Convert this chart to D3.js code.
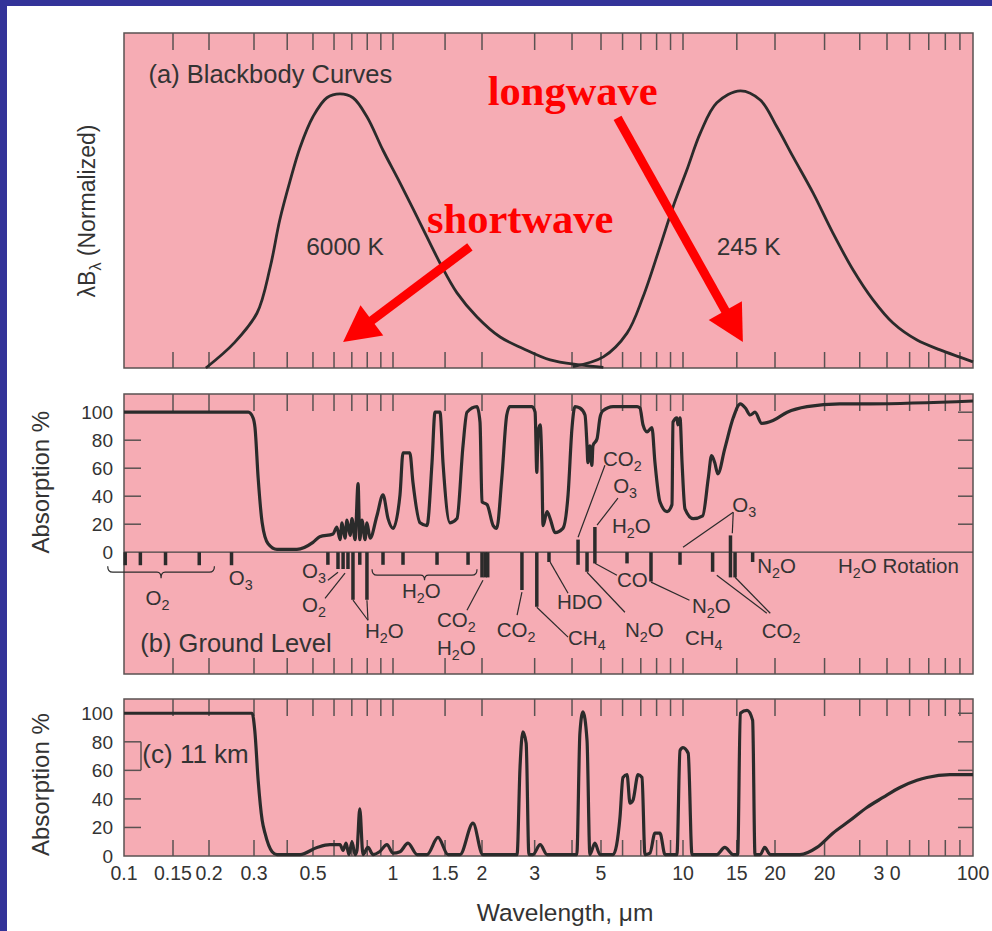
<!DOCTYPE html>
<html lang="en">
<head>
<meta charset="UTF-8">
<script src="https://d3js.org/d3.v7.min.js"></script>
<style>
    body { margin: 0; background: #fff; }
    svg text { font-family: "Liberation Sans", Arial, sans-serif; fill: #333; }
    .red { font-family: "Liberation Serif", "Times New Roman", serif !important; font-weight: bold; fill: #ff0000 !important; }
</style>
</head>
<body>
<svg id="chart"></svg>
<script>
// ---- data (wavelength in micrometres) ----
const frameTicks = [0.15, 0.2, 0.3, 0.4, 0.5, 0.6, 0.7, 0.8, 0.9, 1, 1.5, 2, 3, 4, 5, 6, 7, 8, 9, 10, 15, 20, 30, 40, 50, 60, 70, 80, 90];
const axisTickValues = [0.1, 0.15, 0.2, 0.3, 0.5, 1, 1.5, 2, 3, 5, 10, 15, 20, 30, 50, 100];
const axisTickLabels = ["0.1", "0.15", "0.2", "0.3", "0.5", "1", "1.5", "2", "3", "5", "10", "15", "20", "20", "3 0", "100"];
const absTicks = [0, 20, 40, 60, 80, 100];

// (a) normalized blackbody curves
const bb6000 = [[0.195, 0], [0.251, 0.09], [0.308, 0.197], [0.345, 0.36], [0.375, 0.53], [0.41, 0.67], [0.447, 0.79],
    [0.5, 0.9], [0.564, 0.968], [0.632, 0.982], [0.707, 0.968], [0.798, 0.9], [0.917, 0.78], [1.056, 0.663],
    [1.234, 0.52], [1.442, 0.376], [1.646, 0.269], [1.924, 0.183], [2.3, 0.111], [2.74, 0.07], [3.38, 0.029],
    [4.25, 0.011], [5.1, 0.002]];
const bb245 = [[4.03, 0.005], [5.1, 0.04], [6.23, 0.125], [7.13, 0.254], [8.23, 0.434], [9.19, 0.577], [10.3, 0.71],
    [11.4, 0.842], [12.9, 0.95], [15.4, 0.993], [17.9, 0.96], [20.3, 0.864], [23.2, 0.756], [27.3, 0.627],
    [32.1, 0.484], [37.9, 0.351], [44.6, 0.244], [52.5, 0.161], [63.7, 0.1], [76.7, 0.065], [90, 0.039], [100, 0.022]];

// (b) absorption % at ground level
const groundLevel = [[0.1, 100], [0.285, 100], [0.2975, 96], [0.3026, 89], [0.311, 53], [0.322, 21], [0.339, 6],
    [0.366, 2], [0.435, 2], [0.5, 7], [0.53, 11], [0.595, 13], [0.615, 18], [0.632, 9], [0.643, 21], [0.66, 10],
    [0.671, 23], [0.69, 12], [0.701, 24], [0.72, 9], [0.739, 49], [0.75, 9], [0.764, 23], [0.785, 9], [0.798, 21],
    [0.82, 10], [0.87, 26], [0.917, 41], [0.958, 24], [1.0, 17], [1.056, 41], [1.081, 71], [1.14, 71], [1.168, 50],
    [1.234, 21], [1.303, 19], [1.355, 64], [1.387, 100], [1.442, 100], [1.476, 64], [1.559, 21], [1.646, 24],
    [1.725, 76], [1.779, 100], [1.924, 104], [1.969, 93], [2.0, 36], [2.08, 34], [2.18, 19], [2.24, 17], [2.33, 53],
    [2.42, 98], [2.48, 104], [2.94, 104], [3.01, 100], [3.05, 57], [3.08, 86], [3.13, 91], [3.17, 64], [3.2, 19],
    [3.3, 29], [3.38, 24], [3.51, 14], [3.73, 17], [3.88, 41], [4.0, 89], [4.09, 104], [4.25, 103], [4.42, 98],
    [4.49, 76], [4.52, 64], [4.59, 76], [4.66, 62], [4.7, 76], [4.85, 81], [4.96, 96], [5.08, 101], [5.54, 104],
    [6.78, 104], [6.95, 103], [7.13, 91], [7.38, 86], [7.69, 89], [7.89, 64], [8.23, 36], [8.74, 29], [9.11, 34],
    [9.19, 93], [9.5, 96], [9.58, 91], [9.75, 96], [9.92, 64], [10.15, 31], [10.8, 24], [11.6, 26], [12.1, 53],
    [12.4, 69], [12.7, 64], [13.0, 56], [13.7, 74], [14.6, 96], [15.4, 106], [16.0, 103], [16.6, 98], [17.2, 100],
    [18.1, 92], [19.7, 94], [22.1, 100], [26.0, 104], [34.0, 106], [43.5, 106], [100, 108]];

// (c) absorption % at 11 km
const at11km = [[0.1, 100], [0.295, 100], [0.302, 88], [0.311, 53], [0.322, 25], [0.33, 16], [0.351, 3], [0.366, 1],
    [0.386, 1], [0.447, 1], [0.518, 6], [0.579, 8], [0.632, 8], [0.649, 4], [0.666, 9], [0.683, 1], [0.701, 10],
    [0.72, 1], [0.732, 4], [0.75, 33], [0.771, 1], [0.805, 6], [0.841, 1], [0.89, 3], [0.949, 8], [1.0, 2],
    [1.056, 3], [1.124, 9], [1.206, 1], [1.303, 1], [1.42, 13], [1.535, 1], [1.685, 1], [1.865, 23], [2.01, 1],
    [2.62, 1], [2.68, 62], [2.74, 87], [2.81, 79], [2.87, 1], [2.96, 1], [3.13, 8], [3.3, 1], [4.15, 1], [4.25, 86],
    [4.35, 101], [4.49, 81], [4.59, 1], [4.77, 9], [4.96, 1], [5.54, 1], [5.87, 27], [6.02, 55], [6.23, 57],
    [6.39, 37], [6.55, 39], [6.84, 57], [7.07, 55], [7.25, 1], [7.56, 2], [7.89, 16], [8.23, 16], [8.59, 1],
    [9.5, 1], [9.75, 74], [10, 76], [10.4, 72], [10.7, 1], [12.9, 1], [13.7, 6], [14.6, 1], [15.1, 1], [15.4, 100],
    [16.2, 102], [16.9, 95], [17.2, 1], [17.9, 1], [18.5, 6], [19.3, 1], [24.5, 1], [28.2, 6], [32.1, 16],
    [37.0, 25], [42.4, 34], [48.4, 41], [55.5, 48], [63.7, 53], [69, 55], [83, 57], [100, 57]];

// absorption band markers in (b): [wavelength, top, bottom]
const bandBars = [[0.101, 0, -9.3], [0.1145, 0, -9.3], [0.141, 0, -9.3], [0.185, 0, -9.3], [0.245, 0, -9.3],
    [0.569, 0, -9], [0.621, 0, -12], [0.649, 0, -12], [0.677, 0, -12], [0.707, 0, -34], [0.75, 0, -9], [0.798, 0, -34],
    [0.917, 0, -9], [1.081, 0, -9], [1.409, 0, -9], [1.794, 0, -9], [2.0, 0, -18], [2.05, 0, -18], [2.09, 0, -18],
    [2.72, 0, -27], [3.05, 0, -39], [3.35, 0, -7], [4.19, 9, -9], [4.49, 0, -14], [4.77, 18, -8], [6.23, 0, -8],
    [7.63, 0, -21], [9.75, 0, -9], [12.5, 0, -14], [14.3, 12, -18], [14.8, 0, -18], [16.9, 0, -7]];

const gasLabels = [
    {t: "O_2", x: 0.132, y: -37.9, mid: true}, {t: "O_3", x: 0.239, y: -23.6}, {t: "O_3", x: 0.455, y: -18.6},
    {t: "O_2", x: 0.455, y: -42.9}, {t: "H_2O", x: 0.785, y: -61.4}, {t: "H_2O", x: 1.073, y: -32.9},
    {t: "CO_2", x: 1.409, y: -53.2}, {t: "H_2O", x: 1.409, y: -73.2}, {t: "CO_2", x: 5.08, y: 61.4},
    {t: "O_3", x: 5.54, y: 42.1}, {t: "H_2O", x: 5.49, y: 13.6}, {t: "O_3", x: 14.5, y: 28.6},
    {t: "N_2O", x: 17.5, y: -15}, {t: "H_2O Rotation", x: 33.5, y: -15}, {t: "CO", x: 5.72, y: -25},
    {t: "HDO", x: 3.56, y: -40.7}, {t: "N_2O", x: 10.7, y: -43.6}, {t: "CO_2", x: 2.24, y: -60.7},
    {t: "CH_4", x: 3.88, y: -66.4}, {t: "N_2O", x: 6.12, y: -60.7}, {t: "CH_4", x: 10.15, y: -66.4},
    {t: "CO_2", x: 18.1, y: -61.4}];

const gasLeaders = [
    [[0.569, -20], [0.621, -14.3]], [[0.555, -32.9], [0.66, -15]], [[0.805, -48.6], [0.707, -34.3]],
    [[0.805, -48.6], [0.798, -34.3]], [[1.779, -41.4], [2.015, -20]], [[2.72, -28.6], [2.62, -45]],
    [[3.05, -39.3], [3.88, -60.7]], [[3.38, -7.1], [3.88, -29.3]], [[5.17, 62.1], [4.19, 10.7]],
    [[5.77, 38.6], [4.85, 19.3]], [[4.49, -14.3], [6.12, -42.9]], [[4.77, -7.9], [5.72, -16.4]],
    [[7.63, -21.4], [10.5, -34.3]], [[14.6, 28.6], [10, 3.6]], [[14.6, 28.6], [14.5, 13.6]],
    [[12.9, -16.4], [18.8, -43.6]], [[14.8, -17.9], [19.3, -43.6]]];

const gasBrackets = [{from: 0.0874, to: 0.21, level: -14.3, tip: -18.6}, {from: 0.834, to: 1.924, level: -16.4, tip: -20}];

const arrowNotes = [
    {t: "shortwave", tx: 1.303, ty: 0.484, from: [1.82, 0.434], to: [0.649, 0.093]},
    {t: "longwave", tx: 2.09, ty: 0.943, from: [5.75, 0.896], to: [15.7, 0.093]}];

// ---- layout ----
const W = 992, H = 931, left = 124, right = 973;
const svg = d3.select("#chart").attr("width", W).attr("height", H);
svg.append("rect").attr("width", W).attr("height", H).attr("fill", "#fff");
svg.append("rect").attr("width", 7).attr("height", H).attr("fill", "#333399");
svg.append("rect").attr("width", W).attr("height", 6).attr("fill", "#333399");

// hand-drawn log axis, each decade slightly different
const x = d3.scaleLog()
    .domain([0.1, 0.15, 0.2, 0.3, 1, 2, 5, 10, 20, 50, 100])
    .range([124, 173, 209, 254, 393, 482, 601, 683, 775, 887, 973]);
const yA = d3.scaleLinear().domain([0, 1.2]).range([368, 33]);
const yB = d3.scaleLinear().domain([-87, 113]).range([674, 394]);
const yC = d3.scaleLinear().domain([0, 110]).range([856, 699]);

const ink = "#2b2b2b", frameCol = "#5a5252";

function rich(sel, str, fs) {
    const parts = str.split(/_(.)/);
    let afterSub = false;
    parts.forEach((p, i) => {
        if (i % 2 === 1) {
            sel.append("tspan").attr("dy", fs * 0.25).attr("font-size", fs * 0.7).text(p);
            afterSub = true;
        } else if (p) {
            const ts = sel.append("tspan").text(p);
            if (afterSub) ts.attr("dy", -fs * 0.25);
            afterSub = false;
        }
    });
    return sel;
}

function frame(y) {
    const [b, t] = y.range();
    svg.append("rect").attr("x", left).attr("y", t).attr("width", right - left).attr("height", b - t)
        .attr("fill", "#f6acb4").attr("stroke", frameCol).attr("stroke-width", 1.5);
    const g = svg.append("g").attr("stroke", frameCol).attr("stroke-width", 1.5);
    g.selectAll(".tt").data(frameTicks).enter().append("line")
        .attr("x1", d => x(d)).attr("x2", d => x(d)).attr("y1", t).attr("y2", t + 17);
    g.selectAll(".bt").data(frameTicks).enter().append("line")
        .attr("x1", d => x(d)).attr("x2", d => x(d)).attr("y1", b).attr("y2", b - 16);
}

function absAxis(y) {
    const g = svg.append("g").attr("stroke", frameCol).attr("stroke-width", 1.5);
    const ticks = absTicks.filter(d => d > 0);
    g.selectAll(".l").data(ticks).enter().append("line")
        .attr("x1", left).attr("x2", left + 17).attr("y1", d => y(d)).attr("y2", d => y(d));
    g.selectAll(".r").data(ticks).enter().append("line")
        .attr("x1", right - 15).attr("x2", right).attr("y1", d => y(d)).attr("y2", d => y(d));
    svg.selectAll(null).data(absTicks).enter().append("text")
        .attr("x", 113).attr("y", d => y(d)).attr("dy", "0.36em").attr("text-anchor", "end")
        .attr("font-size", 19).text(d => d);
    const mid = (y(0) + y(100)) / 2;
    svg.append("text").attr("transform", `translate(49,${mid}) rotate(-90)`)
        .attr("text-anchor", "middle").attr("font-size", 24).text("Absorption %");
}

function curve(data, y, w, shape) {
    svg.append("path").datum(data)
        .attr("fill", "none").attr("stroke", ink).attr("stroke-width", w).attr("stroke-linejoin", "round")
        .attr("d", d3.line().x(d => x(d[0])).y(d => y(d[1])).curve(shape || d3.curveMonotoneX));
}

// ---- (a) ----
frame(yA);
curve(bb6000, yA, 2.8, d3.curveCatmullRom.alpha(0.5));
curve(bb245, yA, 2.8, d3.curveCatmullRom.alpha(0.5));
svg.append("text").attr("x", x(0.1225)).attr("y", yA(1.02)).attr("font-size", 25.5).text("(a) Blackbody Curves");
svg.append("text").attr("x", x(0.66)).attr("y", yA(0.405)).attr("text-anchor", "middle").attr("font-size", 24.5).text("6000 K");
svg.append("text").attr("x", x(16.4)).attr("y", yA(0.405)).attr("text-anchor", "middle").attr("font-size", 24.5).text("245 K");
rich(svg.append("text").attr("transform", "translate(95,211) rotate(-90)")
    .attr("text-anchor", "middle").attr("font-size", 23), "λB_λ (Normalized)", 23);

arrowNotes.forEach(a => {
    const p0 = [x(a.from[0]), yA(a.from[1])], p1 = [x(a.to[0]), yA(a.to[1])];
    const dx = p1[0] - p0[0], dy = p1[1] - p0[1], len = Math.hypot(dx, dy);
    const u = [dx / len, dy / len], n = [-u[1], u[0]];
    const base = [p1[0] - u[0] * 36, p1[1] - u[1] * 36];
    svg.append("line").attr("x1", p0[0]).attr("y1", p0[1])
        .attr("x2", p1[0] - u[0] * 30).attr("y2", p1[1] - u[1] * 30)
        .attr("stroke", "#ff0000").attr("stroke-width", 9);
    svg.append("polygon").attr("fill", "#ff0000")
        .attr("points", [p1, [base[0] + n[0] * 19, base[1] + n[1] * 19], [base[0] - n[0] * 19, base[1] - n[1] * 19]].join(" "));
    svg.append("text").attr("class", "red").attr("x", x(a.tx)).attr("y", yA(a.ty)).attr("font-size", 42.5).text(a.t);
});

// ---- (b) ----
frame(yB);
absAxis(yB);
svg.append("line").attr("x1", left).attr("x2", right).attr("y1", yB(0)).attr("y2", yB(0))
    .attr("stroke", "#444").attr("stroke-width", 1.3);
svg.append("g").selectAll("line").data(bandBars).enter().append("line")
    .attr("x1", d => x(d[0])).attr("x2", d => x(d[0])).attr("y1", d => yB(d[1])).attr("y2", d => yB(d[2]))
    .attr("stroke", ink).attr("stroke-width", 3.5);
svg.append("g").selectAll("line").data(gasLeaders).enter().append("line")
    .attr("x1", d => x(d[0][0])).attr("y1", d => yB(d[0][1])).attr("x2", d => x(d[1][0])).attr("y2", d => yB(d[1][1]))
    .attr("stroke", ink).attr("stroke-width", 1.2);
gasBrackets.forEach(b => {
    const x1 = x(b.from), x2 = x(b.to), xm = (x1 + x2) / 2, yl = yB(b.level), yt = yB(b.tip);
    svg.append("path").attr("fill", "none").attr("stroke", ink).attr("stroke-width", 1.2)
        .attr("d", `M${x1},${yl - 6} Q${x1},${yl} ${x1 + 5},${yl} L${xm - 4},${yl} Q${xm},${yl} ${xm},${yt}` +
            ` Q${xm},${yl} ${xm + 4},${yl} L${x2 - 5},${yl} Q${x2},${yl} ${x2},${yl - 6}`);
});
gasLabels.forEach(l => {
    rich(svg.append("text").attr("x", x(l.x)).attr("y", yB(l.y)).attr("font-size", 20.5)
        .attr("text-anchor", l.mid ? "middle" : "start"), l.t, 20.5);
});
svg.append("text").attr("x", x(0.1145)).attr("y", yB(-71.4)).attr("font-size", 25.5).text("(b) Ground Level");
curve(groundLevel, yB, 3.2);

// ---- (c) ----
frame(yC);
absAxis(yC);
svg.append("line").attr("x1", left + 17).attr("x2", left + 17).attr("y1", yC(80)).attr("y2", yC(60))
    .attr("stroke", frameCol).attr("stroke-width", 1.5);
svg.append("text").attr("x", x(0.1164)).attr("y", yC(65)).attr("font-size", 26).text("(c) 11 km");
curve(at11km, yC, 3.2);

svg.selectAll(null).data(axisTickValues).enter().append("text")
    .attr("x", d => x(d)).attr("y", yC(0) + 24).attr("text-anchor", "middle").attr("font-size", 19.5)
    .text((d, i) => axisTickLabels[i]);
svg.append("text").attr("x", 565).attr("y", 921).attr("text-anchor", "middle").attr("font-size", 24.5).text("Wavelength, μm");
</script>
</body>
</html>
